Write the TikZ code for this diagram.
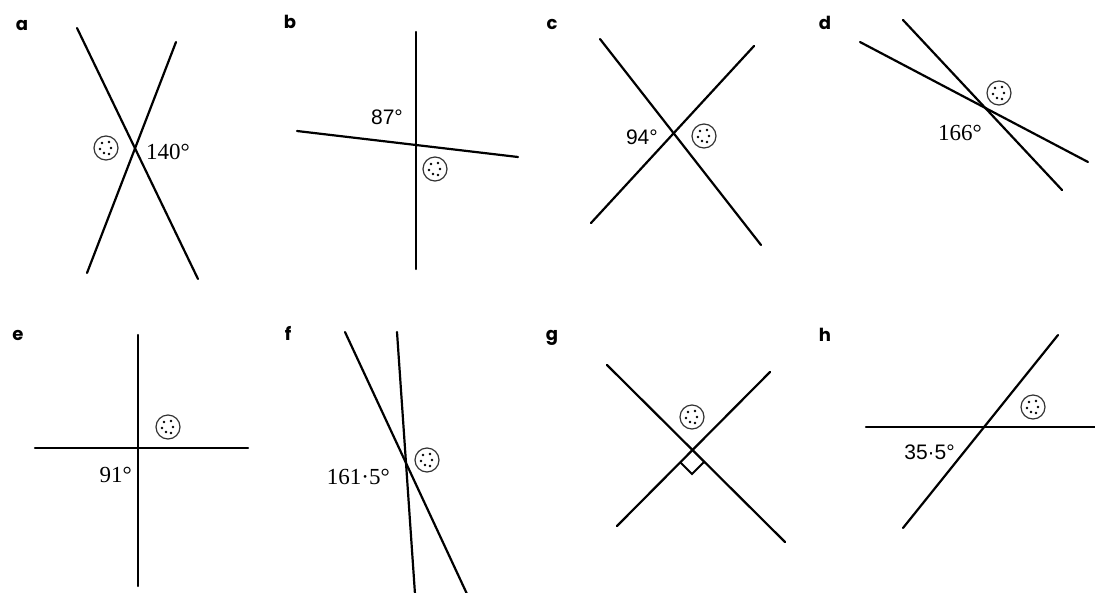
\documentclass[tikz,border=0pt]{standalone}
\usepackage{fontspec}
\newfontfamily\letterfont{Poppins}
\newfontfamily\numsans{Liberation Sans}
\newfontfamily\numserif{Liberation Serif}
\usetikzlibrary{positioning}

\begin{document}
\begin{tikzpicture}[x=1pt, y=-1pt,
    ln/.style={line width=2.2pt, line cap=round},
    tag/.style={font=\letterfont\bfseries\fontsize{18}{20}\selectfont},
    ang/.style={font=\numserif\fontsize{23}{26}\selectfont, inner sep=0pt},
    angs/.style={font=\numsans\fontsize{21}{24}\selectfont, inner sep=0pt},
    speck/.pic={
        \draw[line width=1.2pt, black!80] (0,0) circle (12pt);
        \foreach \x/\y in {-4/-5, 3/-6, -6/1, 5/0, -2/5, 3/6} {
            \fill (\x,\y) circle (1.3pt);
        }
    }]
    \useasboundingbox (0,0) rectangle (1095,592);
    % a
    \node[tag] (la) at (22,25) {a};
    \draw[ln] (77,28) -- (198,279);
    \draw[ln] (176,42) -- (87,273);
    \pic at (106,148) {speck};
    \node[ang, anchor=west] (va) at (146,152) {140°};
    % b
    \node[tag] (lb) at (290,22) {b};
    \draw[ln] (416,32) -- (416,269);
    \draw[ln] (297,131) -- (518,157);
    \pic at (435,169) {speck};
    \node[angs] (vb) at (387,117) {87°};
    % c
    \node[tag] (lc) at (552,24) {c};
    \draw[ln] (600,39) -- (761,245);
    \draw[ln] (754,46) -- (591,223);
    \pic at (704,136) {speck};
    \node[angs, anchor=east] (vc) at (658,137) {94°};
    % d
    \node[tag] (ld) at (825,23) {d};
    \draw[ln] (860,42) -- (1088,162);
    \draw[ln] (903,20) -- (1062,190);
    \pic at (999,93) {speck};
    \node[ang] (vd) at (960,133) {166°};
    % e
    \node[tag] (le) at (18,335) {e};
    \draw[ln] (138,335) -- (138,586);
    \draw[ln] (35,448) -- (248,448);
    \pic at (168,427) {speck};
    \node[ang, anchor=east] (ve) at (132,475) {91°};
    % f
    \node[tag] (lf) at (288,333) {f};
    \draw[ln] (345,332) -- (467,594);
    \draw[ln] (397,332) -- (415,594);
    \pic at (427,460) {speck};
    \node[ang, anchor=east] (vf) at (390,477) {161·5°};
    % g
    \node[tag] (lg) at (552,338) {g};
    \draw[ln] (607,365) -- (785,542);
    \draw[ln] (770,372) -- (617,526);
    \pic at (692,417) {speck};
    \draw[line width=1.8pt] (704,462) -- (692,474) -- (680,462);
    % h
    \node[tag] (lh) at (825,335) {h};
    \draw[ln] (866,427) -- (1097,427);
    \draw[ln] (1058,335) -- (903,528);
    \pic at (1033,407) {speck};
    \node[angs, anchor=east] (vh) at (955,452) {35·5°};
\end{tikzpicture}
\end{document}
